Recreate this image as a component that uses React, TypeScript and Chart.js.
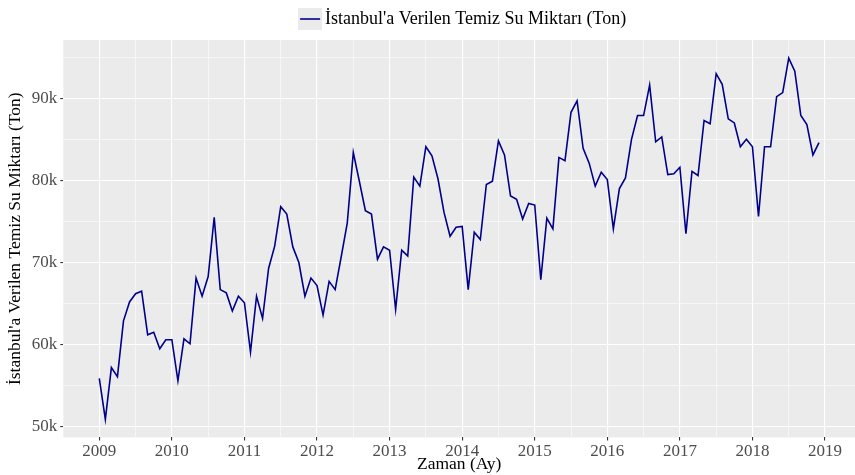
import React, { useEffect, useRef } from 'react';
import { Chart, registerables } from 'chart.js';

Chart.register(...registerables);

// Monthly clean water supplied to Istanbul (tons), Jan..Dec of each year
const years = [2009, 2010, 2011, 2012, 2013, 2014, 2015, 2016, 2017, 2018];
const y2009 = [55900, 50900, 57200, 56100, 62900, 65200, 66200, 66500, 61200, 61500, 59500, 60600];
const y2010 = [60600, 55600, 60700, 60100, 68100, 65900, 68300, 75500, 66700, 66300, 64100, 65900];
const y2011 = [65100, 59100, 65900, 63200, 69300, 72000, 76800, 75900, 71900, 70000, 65900, 68100];
const y2012 = [67200, 63600, 67700, 66700, 70700, 74800, 83400, 79900, 76300, 75900, 70400, 71900];
const y2013 = [71500, 64300, 71500, 70800, 80400, 79300, 84100, 83000, 80200, 76100, 73200, 74300];
const y2014 = [74400, 66700, 73700, 72800, 79500, 79900, 84800, 83100, 78100, 77700, 75300, 77200];
const y2015 = [77000, 67900, 75400, 74100, 82800, 82400, 88300, 89700, 83900, 82100, 79300, 81000];
const y2016 = [80100, 74100, 79000, 80300, 85000, 87900, 87900, 91600, 84700, 85300, 80700, 80800];
const y2017 = [81600, 73500, 81100, 80600, 87300, 86900, 93000, 91700, 87500, 87000, 84100, 85000];
const y2018 = [84100, 75600, 84100, 84100, 90200, 90700, 94900, 93300, 87900, 86800, 83100, 84600];
const yearly = [y2009, y2010, y2011, y2012, y2013, y2014, y2015, y2016, y2017, y2018];

const xTicks = [2009, 2009.5, 2010, 2010.5, 2011, 2011.5, 2012, 2012.5, 2013, 2013.5, 2014, 2014.5, 2015, 2015.5, 2016, 2016.5, 2017, 2017.5, 2018, 2018.5, 2019];
const yTicks = [50000, 55000, 60000, 65000, 70000, 75000, 80000, 85000, 90000, 95000];

const seriesLabel = "İstanbul'a Verilen Temiz Su Miktarı (Ton)";
const xTitle = 'Zaman (Ay)';
const yTitle = "İstanbul'a Verilen Temiz Su Miktarı (Ton)";

const LINE_COLOR = '#00008B';
const FONT = "'Liberation Serif', 'Times New Roman', serif";

export default function App() {
  const canvasRef = useRef<HTMLCanvasElement | null>(null);

  useEffect(() => {
    const canvas = canvasRef.current;
    if (!canvas) return;

    const points: { x: number; y: number }[] = [];
    years.forEach((yr, i) => {
      yearly[i].forEach((v, m) => points.push({ x: yr + m / 12, y: v }));
    });

    // legend key: grey square with a dark-blue line
    const key = document.createElement('canvas');
    key.width = 24;
    key.height = 22;
    const kctx = key.getContext('2d')!;
    kctx.fillStyle = '#ebebeb';
    kctx.fillRect(0, 0, 24, 22);
    kctx.strokeStyle = LINE_COLOR;
    kctx.lineWidth = 1.6;
    kctx.beginPath();
    kctx.moveTo(2, 11);
    kctx.lineTo(22, 11);
    kctx.stroke();

    const panelBg = {
      id: 'panelBg',
      afterLayout(chart: any) {
        const lg = chart.legend;
        if (lg) {
          lg.left += 6;
          lg.right += 6;
          lg.top -= 2;
          lg.bottom -= 2;
        }
      },
      beforeDraw(chart: any) {
        const { ctx, chartArea } = chart;
        ctx.save();
        ctx.fillStyle = '#ebebeb';
        ctx.fillRect(chartArea.left, chartArea.top, chartArea.right - chartArea.left, chartArea.bottom - chartArea.top);
        ctx.restore();
      },
    };

    const isMajorX = (v: number) => Math.abs(v - Math.round(v)) < 1e-6;
    const isMajorY = (v: number) => Math.round(v) % 10000 === 0;

    const chart = new Chart(canvas, {
      type: 'line',
      data: {
        datasets: [
          {
            label: seriesLabel,
            data: points,
            borderColor: LINE_COLOR,
            backgroundColor: LINE_COLOR,
            borderWidth: 1.6,
            pointRadius: 0,
            tension: 0,
            fill: false,
          },
        ],
      },
      options: {
        responsive: false,
        animation: false,
        devicePixelRatio: 1,
        layout: { padding: { left: 0, right: 0, top: 0, bottom: 0 } },
        plugins: {
          tooltip: { enabled: false },
          legend: {
            display: true,
            position: 'top',
            fullSize: false,
            labels: {
              usePointStyle: true,
              pointStyle: key as any,
              pointStyleWidth: 12,
              padding: 12,
              color: '#000',
              font: { family: FONT, size: 18 },
            },
          },
        },
        scales: {
          x: {
            type: 'linear',
            min: 2008.504,
            max: 2019.413,
            afterBuildTicks: (scale: any) => {
              scale.ticks = xTicks.map((v) => ({ value: v }));
            },
            afterFit: (scale: any) => {
              scale.height = 37.6;
            },
            ticks: {
              autoSkip: false,
              maxRotation: 0,
              padding: 1,
              color: '#4d4d4d',
              font: { family: FONT, size: 17 },
              callback: (v: any) => (isMajorX(Number(v)) ? String(Math.round(Number(v))) : ''),
            },
            grid: {
              color: '#ffffff',
              lineWidth: (c: any) => (isMajorX(c.tick.value) ? 1.1 : 0.55),
              tickColor: (c: any) => (isMajorX(c.tick.value) ? '#333333' : 'rgba(0,0,0,0)'),
              tickLength: 3,
              drawTicks: true,
            },
            border: { display: false },
            title: {
              display: true,
              text: xTitle,
              color: '#000',
              font: { family: FONT, size: 17.5 },
              padding: { top: 0, bottom: 0 },
            },
          },
          y: {
            type: 'linear',
            min: 48700,
            max: 97100,
            afterBuildTicks: (scale: any) => {
              scale.ticks = yTicks.map((v) => ({ value: v }));
            },
            afterFit: (scale: any) => {
              scale.width = 63.3;
            },
            ticks: {
              autoSkip: false,
              padding: 3,
              color: '#4d4d4d',
              font: { family: FONT, size: 17 },
              callback: (v: any) => (isMajorY(Number(v)) ? `${Math.round(Number(v) / 1000)}k` : ''),
            },
            grid: {
              color: '#ffffff',
              lineWidth: (c: any) => (isMajorY(c.tick.value) ? 1.1 : 0.55),
              tickColor: (c: any) => (isMajorY(c.tick.value) ? '#333333' : 'rgba(0,0,0,0)'),
              tickLength: 3,
              drawTicks: true,
            },
            border: { display: false },
            title: {
              display: true,
              text: yTitle,
              color: '#000',
              font: { family: FONT, size: 17.5 },
              padding: { top: 5, bottom: 0 },
            },
          },
        },
      },
      plugins: [panelBg],
    });

    return () => chart.destroy();
  }, []);

  return (
    <div style={{ position: 'absolute', left: 0, top: 0, width: 855, height: 475 }}>
      <canvas ref={canvasRef} width={855} height={475} style={{ display: 'block' }} />
    </div>
  );
}
